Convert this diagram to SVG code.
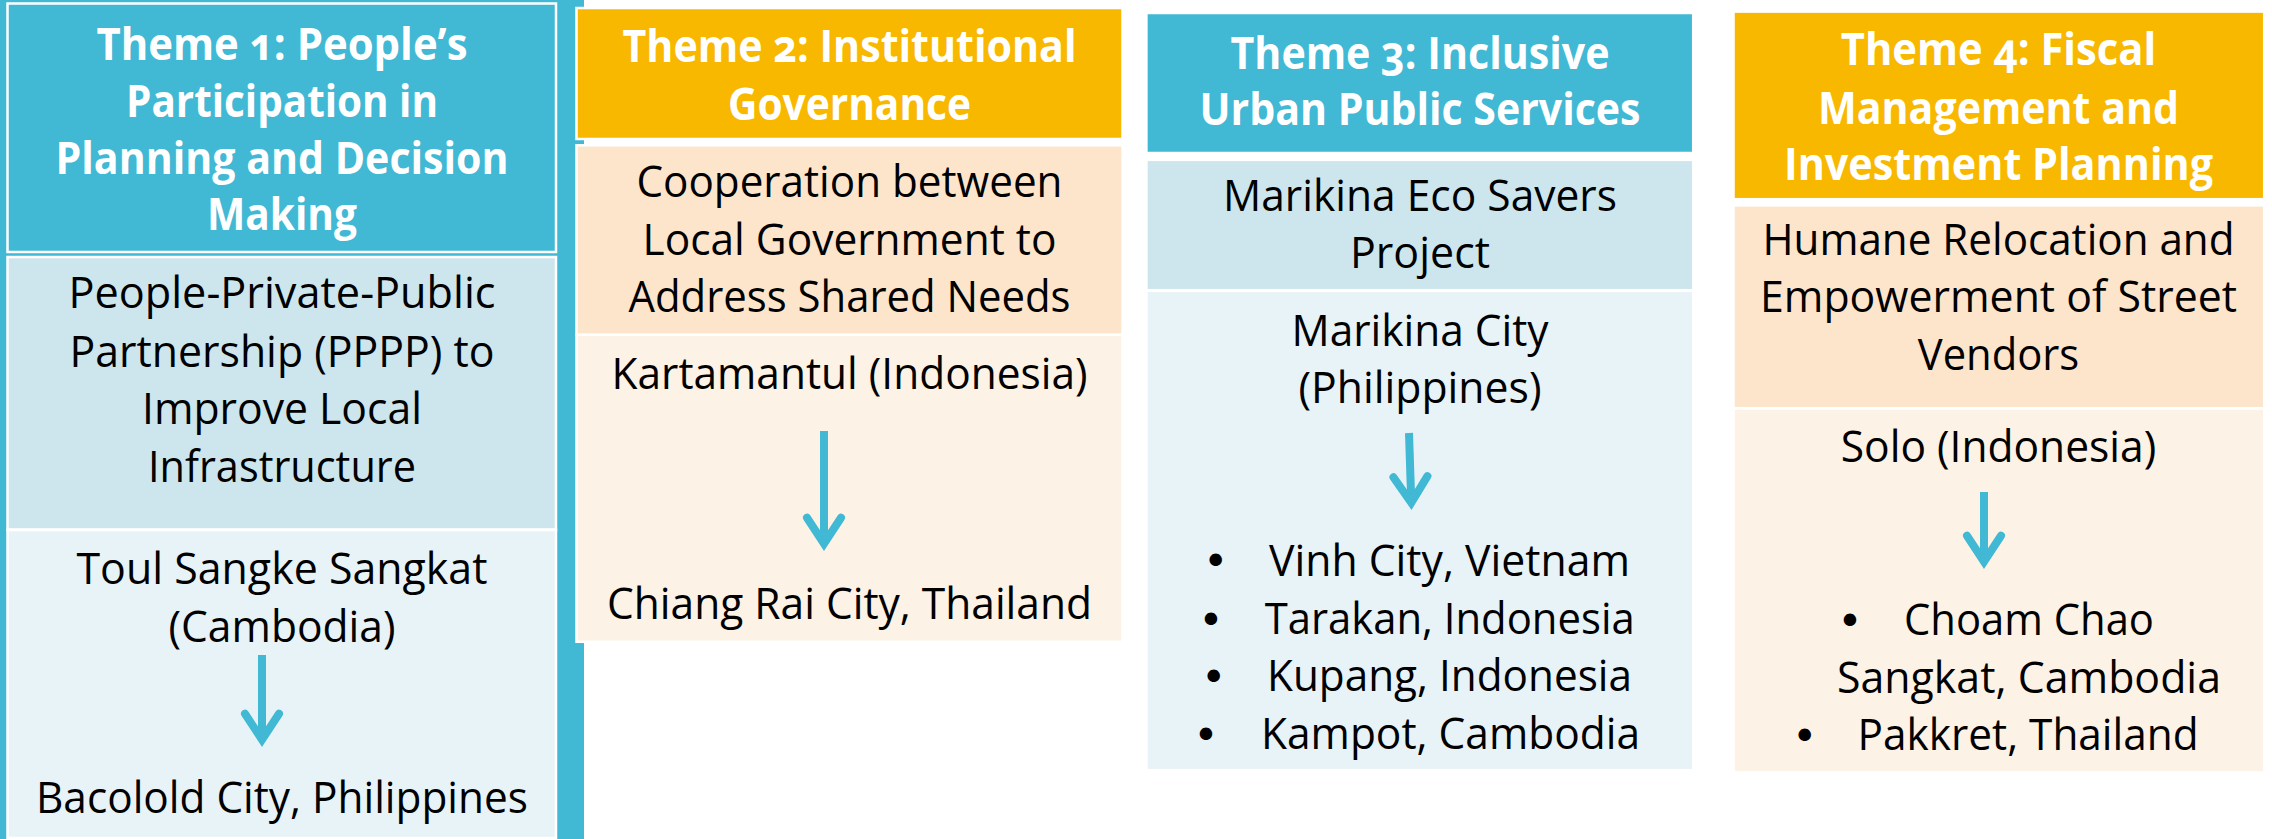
<svg xmlns="http://www.w3.org/2000/svg" width="2272" height="839" viewBox="0 0 2272 839">
<defs>
<style>
.bx{stroke:#ffffff;stroke-width:2.5}
.teal{fill:#41B8D4}
.orange{fill:#F9B800}
.lb{fill:#CDE6EE}
.lb2{fill:#E8F3F8}
.be{fill:#FDE5CC}
.be2{fill:#FDF2E6}
text{font-family:"Open Sans","Noto Sans","Liberation Sans",sans-serif;font-variant-numeric:oldstyle-nums}
.h{font-size:45px;font-weight:700;fill:#ffffff;text-anchor:middle}
.t{font-size:43px;font-weight:400;fill:#000000;text-anchor:middle}
.s{font-size:43px;font-weight:400;fill:#000000;text-anchor:start}
.b{font-family:"DejaVu Sans",sans-serif;font-size:43px;font-weight:400;fill:#000000;text-anchor:middle}
.conn{fill:none;stroke:#41B8D4;stroke-width:8;stroke-linecap:butt}
</style>
<marker id="arrow" markerUnits="userSpaceOnUse" viewBox="-40 -30 60 60" markerWidth="60" markerHeight="60" refX="0" refY="0" orient="auto">
<path d="M-23.3,-17 L2.7,0 L-23.3,17" fill="none" stroke="#41B8D4" stroke-width="8" stroke-linecap="round" stroke-linejoin="miter" stroke-miterlimit="10"/>
</marker>
</defs>
<rect x="0" y="0" width="2272" height="839" fill="#ffffff"/>
<g id="theme1-frame">
<rect x="0" y="0" width="584" height="839" class="teal"/>
</g>
<g id="theme1-header">
<rect x="7.5" y="3.5" width="548.5" height="248.5" class="bx teal"/>
<text class="h" x="282" y="60" textLength="371" lengthAdjust="spacingAndGlyphs">Theme 1: People’s</text>
<text class="h" x="282" y="117" textLength="312" lengthAdjust="spacingAndGlyphs">Participation in</text>
<text class="h" x="282" y="174" textLength="453" lengthAdjust="spacingAndGlyphs">Planning and Decision</text>
<text class="h" x="282" y="230" textLength="150" lengthAdjust="spacingAndGlyphs">Making</text>
</g>
<g id="theme1-practice">
<rect x="7.5" y="257" width="548.5" height="272.5" class="bx lb"/>
<text class="t" x="282" y="308" textLength="427" lengthAdjust="spacingAndGlyphs">People-Private-Public</text>
<text class="t" x="282" y="367" textLength="425" lengthAdjust="spacingAndGlyphs">Partnership (PPPP) to</text>
<text class="t" x="282" y="424" textLength="280" lengthAdjust="spacingAndGlyphs">Improve Local</text>
<text class="t" x="282" y="482" textLength="268" lengthAdjust="spacingAndGlyphs">Infrastructure</text>
</g>
<g id="theme1-cities">
<rect x="7.5" y="530" width="548.5" height="308" class="bx lb2"/>
<text class="t" x="282" y="584" textLength="411" lengthAdjust="spacingAndGlyphs">Toul Sangke Sangkat</text>
<text class="t" x="282" y="642" textLength="227" lengthAdjust="spacingAndGlyphs">(Cambodia)</text>
<text class="t" x="282" y="813" textLength="492" lengthAdjust="spacingAndGlyphs">Bacolold City, Philippines</text>
</g>
<g id="theme2-header">
<rect x="576.5" y="8" width="546" height="131" class="bx orange"/>
<text class="h" x="849.5" y="62" textLength="454" lengthAdjust="spacingAndGlyphs">Theme 2: Institutional</text>
<text class="h" x="849.5" y="120" textLength="243" lengthAdjust="spacingAndGlyphs">Governance</text>
</g>
<g id="theme2-practice">
<rect x="576.5" y="145.3" width="546" height="189.6" class="bx be"/>
<text class="t" x="849.5" y="197" textLength="426" lengthAdjust="spacingAndGlyphs">Cooperation between</text>
<text class="t" x="849.5" y="254.5" textLength="414" lengthAdjust="spacingAndGlyphs">Local Government to</text>
<text class="t" x="849.5" y="311.5" textLength="442" lengthAdjust="spacingAndGlyphs">Address Shared Needs</text>
</g>
<g id="theme2-cities">
<rect x="576.5" y="334.8" width="546" height="307" class="bx be2"/>
<text class="t" x="849.5" y="389" textLength="476" lengthAdjust="spacingAndGlyphs">Kartamantul (Indonesia)</text>
<text class="t" x="849.5" y="618.5" textLength="485" lengthAdjust="spacingAndGlyphs">Chiang Rai City, Thailand</text>
</g>
<g id="theme3-header">
<rect x="1146.4" y="13" width="546.8" height="140" class="bx teal"/>
<text class="h" x="1420" y="69" textLength="379" lengthAdjust="spacingAndGlyphs">Theme 3: Inclusive</text>
<text class="h" x="1420" y="125" textLength="441" lengthAdjust="spacingAndGlyphs">Urban Public Services</text>
</g>
<g id="theme3-practice">
<rect x="1146.4" y="159.8" width="546.8" height="130.4" class="bx lb"/>
<text class="t" x="1420" y="210.5" textLength="394" lengthAdjust="spacingAndGlyphs">Marikina Eco Savers</text>
<text class="t" x="1420" y="268" textLength="140" lengthAdjust="spacingAndGlyphs">Project</text>
</g>
<g id="theme3-cities">
<rect x="1146.4" y="290.8" width="546.8" height="479.4" class="bx lb2"/>
<text class="t" x="1420" y="346" textLength="257" lengthAdjust="spacingAndGlyphs">Marikina City</text>
<text class="t" x="1420" y="403" textLength="243" lengthAdjust="spacingAndGlyphs">(Philippines)</text>
<text class="b" x="1215.7" y="576">•</text>
<text class="s" x="1269" y="575.5" textLength="361" lengthAdjust="spacingAndGlyphs">Vinh City, Vietnam</text>
<text class="b" x="1211" y="634.5">•</text>
<text class="s" x="1264.7" y="634" textLength="370" lengthAdjust="spacingAndGlyphs">Tarakan, Indonesia</text>
<text class="b" x="1213.8" y="691.5">•</text>
<text class="s" x="1267" y="691" textLength="365" lengthAdjust="spacingAndGlyphs">Kupang, Indonesia</text>
<text class="b" x="1206" y="749.5">•</text>
<text class="s" x="1261" y="749" textLength="379" lengthAdjust="spacingAndGlyphs">Kampot, Cambodia</text>
</g>
<g id="theme4-header">
<rect x="1733.5" y="11.6" width="530.7" height="187.6" class="bx orange"/>
<text class="h" x="1998.5" y="65.3" textLength="315.5" lengthAdjust="spacingAndGlyphs">Theme 4: Fiscal</text>
<text class="h" x="1998.5" y="123.5" textLength="361" lengthAdjust="spacingAndGlyphs">Management and</text>
<text class="h" x="1998.5" y="179.6" textLength="429" lengthAdjust="spacingAndGlyphs">Investment Planning</text>
</g>
<g id="theme4-practice">
<rect x="1733.5" y="205.4" width="530.7" height="202.8" class="bx be"/>
<text class="t" x="1998.5" y="255" textLength="472" lengthAdjust="spacingAndGlyphs">Humane Relocation and</text>
<text class="t" x="1998.5" y="312" textLength="477" lengthAdjust="spacingAndGlyphs">Empowerment of Street</text>
<text class="t" x="1998.5" y="370" textLength="161.5" lengthAdjust="spacingAndGlyphs">Vendors</text>
</g>
<g id="theme4-cities">
<rect x="1733.5" y="408.5" width="530.7" height="364" class="bx be2"/>
<text class="t" x="1998.5" y="461.7" textLength="315.5" lengthAdjust="spacingAndGlyphs">Solo (Indonesia)</text>
<text class="b" x="1850" y="635.5">•</text>
<text class="s" x="1904" y="635" textLength="250" lengthAdjust="spacingAndGlyphs">Choam Chao</text>
<text class="s" x="1837" y="693" textLength="384" lengthAdjust="spacingAndGlyphs">Sangkat, Cambodia</text>
<text class="b" x="1804.7" y="750.5">•</text>
<text class="s" x="1857.6" y="750" textLength="341" lengthAdjust="spacingAndGlyphs">Pakkret, Thailand</text>
</g>
<g id="connectors">
<path class="conn" d="M262,655 L262,737" marker-end="url(#arrow)"/>
<path class="conn" d="M824,431 L824,541" marker-end="url(#arrow)"/>
<path class="conn" d="M1409,433 L1411.2,500" marker-end="url(#arrow)"/>
<path class="conn" d="M1984,492 L1984,559" marker-end="url(#arrow)"/>
</g>
</svg>
